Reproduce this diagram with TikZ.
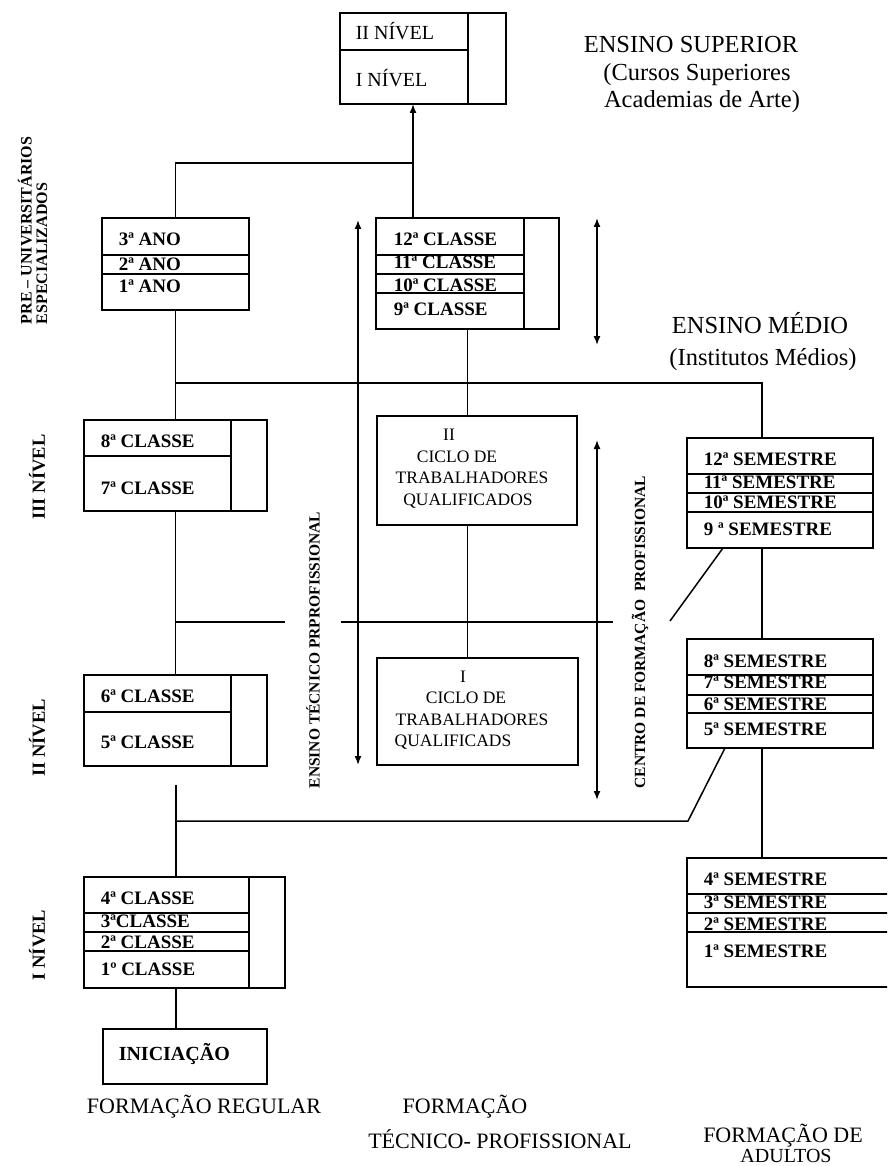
\documentclass[tikz,border=0pt]{standalone}
\usepackage{fontspec}
\setmainfont{Liberation Serif}
\usetikzlibrary{arrows.meta}
\begin{document}
\begin{tikzpicture}[x=1pt,y=-1pt,line width=1.5pt,
  box/.style={draw,line width=1.5pt,inner sep=0pt,outer sep=0pt,anchor=north west},
  bt/.style={font=\fontsize{19}{19}\selectfont\bfseries,inner sep=0pt,anchor=base west},
  rt/.style={font=\fontsize{20}{20}\selectfont,inner sep=0pt,anchor=base west},
  ct/.style={font=\fontsize{17.5}{17.5}\selectfont,inner sep=0pt,anchor=base},
  hd/.style={font=\fontsize{22}{22}\selectfont,inner sep=0pt,anchor=base},
  hb/.style={font=\fontsize{24.5}{24.5}\selectfont,inner sep=0pt,anchor=base},
  vl/.style={font=\fontsize{15.5}{15.5}\selectfont\bfseries,inner sep=0pt,rotate=90},
  nv/.style={font=\fontsize{18.5}{18.5}\selectfont\bfseries,inner sep=0pt,rotate=90},
  arr/.style={-{Latex[length=9pt,width=7pt]}},
  darr/.style={{Latex[length=9pt,width=7pt]}-{Latex[length=9pt,width=7pt]}}]
\useasboundingbox (0,0) rectangle (887,1166);
\clip (0,0) rectangle (887,1166);
\fill[white] (0,0) rectangle (887,1166);

% ---------- boxes ----------
\node[box,minimum width=166pt,minimum height=91pt] (sup) at (340,13) {};
\draw (468,13) -- (468,104);
\draw (340,50) -- (468,50);
\node[rt] (tsup2) at (355,40) {II NÍVEL};
\node[rt] (tsup1) at (355,87) {I NÍVEL};

\node[box,minimum width=147pt,minimum height=92pt] (ano) at (102,218) {};
\draw (102,255) -- (249,255);
\draw (102,274) -- (249,274);
\node[bt] (tano3) at (118,245) {3ª ANO};
\node[bt] (tano2) at (118,270) {2ª ANO};
\node[bt] (tano1) at (118,292) {1ª ANO};

\node[box,minimum width=183pt,minimum height=111pt] (cl12) at (376,218) {};
\draw (524,218) -- (524,329);
\draw (376,255) -- (524,255);
\draw (376,274) -- (524,274);
\draw (376,293) -- (524,293);
\node[bt] (tc12) at (393,246) {12ª CLASSE};
\node[bt] (tc11) at (393,269) {11ª CLASSE};
\node[bt] (tc10) at (393,291) {10ª CLASSE};
\node[bt] (tc9) at (393,315) {9ª CLASSE};

\node[box,minimum width=183pt,minimum height=91pt] (cl8) at (84,420) {};
\draw (231,420) -- (231,511);
\draw (84,456) -- (231,456);
\node[bt] (tc8) at (100,447) {8ª CLASSE};
\node[bt] (tc7) at (100,494) {7ª CLASSE};

\node[box,minimum width=200pt,minimum height=109pt] (cicII) at (377,416) {};
\node[ct] (tcII1) at (449,440) {II};
\node[ct] (tcII2) at (457,462) {CICLO DE};
\node[ct] (tcII3) at (472,483) {TRABALHADORES};
\node[ct] (tcII4) at (468,505) {QUALIFICADOS};

\node[box,minimum width=201pt,minimum height=107pt] (cicI) at (377,658) {};
\node[ct] (tcI1) at (463,682) {I};
\node[ct] (tcI2) at (466,703) {CICLO DE};
\node[ct] (tcI3) at (472,725) {TRABALHADORES};
\node[ct] (tcI4) at (453,746) {QUALIFICADS};

\node[box,minimum width=183pt,minimum height=91pt] (cl6) at (84,675) {};
\draw (231,675) -- (231,766);
\draw (84,712) -- (231,712);
\node[bt] (tc6) at (100,702) {6ª CLASSE};
\node[bt] (tc5) at (100,748) {5ª CLASSE};

\node[box,minimum width=201pt,minimum height=111pt] (cl4) at (84,877) {};
\draw (249,877) -- (249,988);
\draw (84,913) -- (249,913);
\draw (84,932) -- (249,932);
\draw (84,951) -- (249,951);
\node[bt] (tc4) at (100,904) {4ª CLASSE};
\node[bt] (tc3) at (100,927) {3ªCLASSE};
\node[bt] (tc2) at (100,948) {2ª CLASSE};
\node[bt] (tc1) at (100,975) {1º CLASSE};

\node[box,minimum width=164pt,minimum height=55pt] (ini) at (103,1029) {};
\node[bt,font=\fontsize{20}{20}\selectfont\bfseries] (tini) at (118,1060) {INICIAÇÃO};

\node[box,minimum width=186pt,minimum height=110pt] (s12) at (687,438) {};
\draw (687,474) -- (873,474);
\draw (687,493) -- (873,493);
\draw (687,512) -- (873,512);
\node[bt] (ts12) at (703,465) {12ª SEMESTRE};
\node[bt] (ts11) at (703,488) {11ª SEMESTRE};
\node[bt] (ts10) at (703,508) {10ª SEMESTRE};
\node[bt] (ts9) at (703,535) {9 ª SEMESTRE};

\node[box,minimum width=186pt,minimum height=109pt] (s8) at (687,639) {};
\draw (687,675) -- (873,675);
\draw (687,695) -- (873,695);
\draw (687,713) -- (873,713);
\node[bt] (ts8) at (703,667) {8ª SEMESTRE};
\node[bt] (ts7) at (703,688) {7ª SEMESTRE};
\node[bt] (ts6) at (703,710) {6ª SEMESTRE};
\node[bt] (ts5) at (703,735) {5ª SEMESTRE};

\node[box,minimum width=220pt,minimum height=129pt] (s4) at (687,858) {};
\draw (687,894) -- (900,894);
\draw (687,913) -- (900,913);
\draw (687,932) -- (900,932);
\node[bt] (ts4) at (703,885) {4ª SEMESTRE};
\node[bt] (ts3) at (703,908) {3ª SEMESTRE};
\node[bt] (ts2) at (703,930) {2ª SEMESTRE};
\node[bt] (ts1) at (703,957) {1ª SEMESTRE};

% ---------- junction coordinates ----------
\coordinate (j1) at (413,163);
\coordinate (j2) at (762,383);
\coordinate (h1) at (176,622);
\coordinate (h2) at (285,622);
\coordinate (h3) at (341,622);
\coordinate (h4) at (613,622);
\coordinate (g1) at (176,785);
\coordinate (k1) at (176,821);
\coordinate (k2) at (688,821);
\coordinate (k3) at (725,748);
\coordinate (d1) at (723,548);
\coordinate (d2) at (670,621);
\coordinate (a1t) at (358,220);
\coordinate (a1b) at (358,765);
\coordinate (a2t) at (597,218);
\coordinate (a2b) at (597,345);
\coordinate (a3t) at (597,440);
\coordinate (a3b) at (597,800);

% ---------- connectors ----------
\draw[arr] (j1 |- cl12.north) -- (j1 |- sup.south);
\draw (ano.north) |- (j1);
\draw (ano.south) -- (cl8.north);
\draw (ano.south |- j2) -- (j2) -- (j2 |- s12.north);
\draw (cl12.south) -- (cl12.south |- cicII.north);
\draw (cl12.south |- cicII.south) -- (cl12.south |- cicI.north);
\draw (cl8.south) -- (cl6.north);
\draw (h1) -- (h2);
\draw (h3) -- (h4);
\draw (g1) -- (g1 |- cl4.north);
\draw (k1) -- (k2) -- (k3);
\draw (d1) -- (d2);
\draw (j2 |- s12.south) -- (j2 |- s8.north);
\draw (j2 |- s8.south) -- (j2 |- s4.north);
\draw (g1 |- cl4.south) -- (g1 |- ini.north);
\draw[darr] (a1t) -- (a1b);
\draw[darr] (a2t) -- (a2b);
\draw[darr] (a3t) -- (a3b);

% ---------- labels ----------
\node[hb] (lsup1) at (691,53) {ENSINO SUPERIOR};
\node[hb] (lsup2) at (697,81) {(Cursos Superiores};
\node[hb] (lsup3) at (702,108) {Academias de Arte)};
\node[hb] (lmed1) at (760,333) {ENSINO MÉDIO};
\node[hb] (lmed2) at (763,365) {(Institutos Médios)};
\node[hd] (lreg) at (204,1113) {FORMAÇÃO REGULAR};
\node[hd] (ltec1) at (465,1113) {FORMAÇÃO};
\node[hd] (ltec2) at (500,1148) {TÉCNICO- PROFISSIONAL};
\node[hd] (lad1) at (783,1142) {FORMAÇÃO DE};
\node[hd,font=\fontsize{20}{20}\selectfont] (lad2) at (786,1162) {ADULTOS};

\node[vl] (lete) at (313,650) {ENSINO TÉCNICO PRPROFISSIONAL};
\node[vl] (lcfp) at (640,632) {CENTRO DE FORMAÇÃO\ \ PROFISSIONAL};
\node[vl,font=\fontsize{16}{16}\selectfont\bfseries,anchor=west] (lpre1) at (25,325) {PRE – UNIVERSITÁRIOS};
\node[vl,font=\fontsize{16}{16}\selectfont\bfseries,anchor=west] (lpre2) at (42,325) {ESPECIALIZADOS};
\node[nv] (lniv3) at (37,477) {III NÍVEL};
\node[nv] (lniv2) at (37,738) {II NÍVEL};
\node[nv] (lniv1) at (37,945) {I NÍVEL};
\end{tikzpicture}
\end{document}
